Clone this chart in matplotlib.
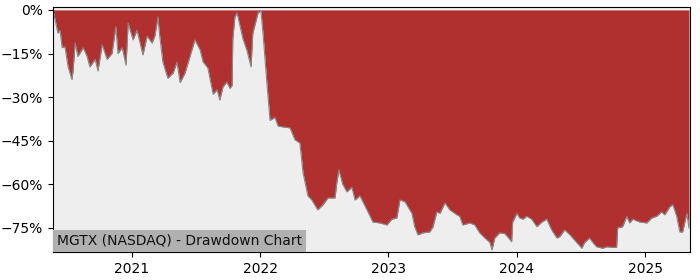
import pandas as pd
import matplotlib
matplotlib.use("Agg")
import matplotlib.pyplot as plt
from matplotlib.ticker import PercentFormatter

title = "MGTX (NASDAQ) - Drawdown Chart"

dates = [
    "2020-05-21", "2020-05-27", "2020-06-04", "2020-06-10", "2020-06-16", "2020-06-24",
    "2020-07-03", "2020-07-14", "2020-07-17", "2020-07-23", "2020-07-31", "2020-08-15",
    "2020-08-26", "2020-09-03", "2020-09-18", "2020-09-26", "2020-10-08", "2020-10-22",
    "2020-11-05", "2020-11-16", "2020-11-22", "2020-12-04", "2020-12-15", "2020-12-21",
    "2021-01-04", "2021-01-15", "2021-01-24", "2021-02-01", "2021-02-13", "2021-02-27",
    "2021-03-07", "2021-03-16", "2021-03-19", "2021-03-30", "2021-04-13", "2021-04-28",
    "2021-05-09", "2021-05-18", "2021-06-01", "2021-06-15", "2021-06-29", "2021-07-14",
    "2021-07-22", "2021-08-05", "2021-08-20", "2021-08-31", "2021-09-08", "2021-09-17",
    "2021-09-28", "2021-10-07", "2021-10-13", "2021-10-15", "2021-10-21", "2021-10-27",
    "2021-11-13", "2021-11-24", "2021-12-06", "2021-12-11", "2021-12-26", "2022-01-03",
    "2022-01-09", "2022-01-20", "2022-01-29", "2022-02-12", "2022-02-21", "2022-03-27",
    "2022-04-10", "2022-04-24", "2022-05-03", "2022-05-17", "2022-05-28", "2022-06-14",
    "2022-06-29", "2022-07-13", "2022-08-02", "2022-08-07", "2022-08-13", "2022-08-24",
    "2022-09-05", "2022-09-19", "2022-09-28", "2022-10-12", "2022-11-01", "2022-11-18",
    "2022-12-08", "2022-12-28", "2023-01-11", "2023-01-25", "2023-02-03", "2023-02-17",
    "2023-03-09", "2023-03-17", "2023-03-26", "2023-04-09", "2023-04-29", "2023-05-08",
    "2023-05-19", "2023-05-28", "2023-06-11", "2023-06-25", "2023-07-15", "2023-07-23",
    "2023-08-01", "2023-08-21", "2023-09-04", "2023-09-18", "2023-10-03", "2023-10-17",
    "2023-10-23", "2023-10-31", "2023-11-14", "2023-11-29", "2023-12-13", "2023-12-18",
    "2023-12-21", "2024-01-02", "2024-01-10", "2024-01-19", "2024-01-30", "2024-02-13",
    "2024-02-28", "2024-03-13", "2024-03-27", "2024-04-10", "2024-04-25", "2024-05-03",
    "2024-05-17", "2024-06-01", "2024-06-20", "2024-07-05", "2024-07-13", "2024-07-27",
    "2024-08-05", "2024-08-16", "2024-09-02", "2024-09-14", "2024-09-28", "2024-10-12",
    "2024-10-15", "2024-10-29", "2024-11-10", "2024-11-18", "2024-11-27", "2024-12-17",
    "2025-01-06", "2025-01-20", "2025-02-03", "2025-02-17", "2025-02-26", "2025-03-12",
    "2025-03-21", "2025-04-01", "2025-04-10", "2025-04-18", "2025-04-30", "2025-05-06",
]

drawdown = [
    0, -3.4, -8, -7, -13, -12.7,
    -19.6, -24, -21, -11.4, -16, -13,
    -16, -19.6, -17, -21, -12, -17,
    -15, -5.8, -15, -13, -19, -4.5,
    -10.3, -7, -11.4, -15.5, -9, -11.4,
    -9, -2.4, -7, -18, -23.5, -21.7,
    -18, -25, -21.7, -16, -10.3, -13.8,
    -17.8, -20, -29, -27.5, -31, -26.5,
    -24.8, -27, -26, -10, -2.4, -1,
    -10, -13.8, -19.6, -8, -1, -0.3,
    -8, -25, -38, -37, -40, -40.6,
    -44.7, -45.8, -56, -64, -65.4, -68.8,
    -67, -64.7, -64.7, -59.6, -55, -60,
    -62.6, -61, -65.4, -64, -68.8, -73,
    -73.3, -74, -72, -71.6, -65.4, -66,
    -70, -74.6, -77.4, -76.7, -76.4, -74.6,
    -69.5, -70, -66.4, -68.8, -70.5, -71,
    -74, -73.3, -74, -76.7, -78.5, -80,
    -82.6, -78.5, -76.7, -77, -79, -79.8,
    -73, -70, -71.6, -72, -71, -72,
    -74.6, -73, -72, -75.7, -78.5, -78,
    -75.7, -77.4, -80, -82, -80, -78.5,
    -80, -81.5, -82, -81.5, -81.7, -81.7,
    -75, -74.6, -71, -73.3, -72, -73,
    -73.3, -71.6, -71, -69.5, -70.5, -67.8,
    -67, -71, -76.4, -76.4, -70, -75,
]

x = pd.to_datetime(dates)

fig = plt.figure(figsize=(7, 2.8), dpi=100)
ax = fig.add_axes([0.0757, 0.1, 0.91, 0.875])
ax.set_facecolor("#eeeeee")

ax.fill_between(x, drawdown, 0, color="#b03030", linewidth=0)
ax.plot(x, drawdown, color="#888888", linewidth=0.8)

ax.set_xlim(pd.Timestamp("2020-05-21"), pd.Timestamp("2025-05-09"))
ax.set_ylim(-83.3, 1)
ax.set_yticks([0, -15, -30, -45, -60, -75])
ax.yaxis.set_major_formatter(PercentFormatter(xmax=100, decimals=0))
ax.set_xticks(pd.to_datetime(["2021-01-01", "2022-01-01", "2023-01-01",
                              "2024-01-01", "2025-01-01"]))
ax.set_xticklabels(["2021", "2022", "2023", "2024", "2025"])

# label box sits flush on the lower-left corner of the plot area
ax.text(0.0066, 0.017, title, transform=ax.transAxes, fontsize=10,
        color="#111111", ha="left", va="bottom",
        bbox=dict(facecolor="#b0b0b0", edgecolor="none", pad=3))

fig.savefig("out.png", dpi=100)
